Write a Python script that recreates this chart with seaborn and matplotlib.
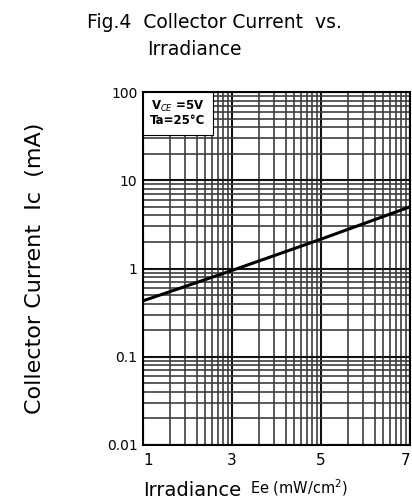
import numpy as np
import pandas as pd
import matplotlib
matplotlib.use("Agg")
import matplotlib.pyplot as plt
from matplotlib.patches import Rectangle
import seaborn as sns

# data
irradiance = [1, 3, 5, 7]            # Ee (mW/cm^2)
collector_current = [0.43, 0.95, 2.15, 5.0]  # Ic (mA)
x_ticks = [1, 3, 5, 7]
x_ticklabels = ["1", "3", "5", "7"]
y_ticks = [0.01, 0.1, 1, 10, 100]
y_ticklabels = ["0.01", "0.1", "1", "10", "100"]

sns.set_style("white")
plt.rcParams["font.family"] = ["DejaVu Sans"]
plt.rcParams["text.color"] = "black"

df = pd.DataFrame({"Ee": irradiance, "Ic": collector_current})

fig = plt.figure(figsize=(4.12, 5.04), dpi=100)
ax = fig.add_axes([143 / 412, 1 - 445 / 504, 267 / 412, 353 / 504])

ax.set_yscale("log")
ax.set_xlim(1, 7)
ax.set_ylim(0.01, 100)

# log-paper style grid: each x segment of width 2 is one decade
minor_x = []
for s in [1, 3, 5]:
    for k in range(2, 10):
        minor_x.append(s + 2 * np.log10(k))
ax.set_xticks(x_ticks)
ax.set_xticklabels(x_ticklabels)
ax.set_xticks(minor_x, minor=True)
ax.set_yticks(y_ticks)
ax.set_yticklabels(y_ticklabels)
ax.yaxis.set_minor_locator(matplotlib.ticker.LogLocator(base=10, subs=np.arange(2, 10)))
ax.yaxis.set_minor_formatter(matplotlib.ticker.NullFormatter())

ax.grid(True, which="major", color="#111111", linewidth=1.5)
ax.grid(True, which="minor", color="#3a3a3a", linewidth=1.3, alpha=0.9)
ax.set_axisbelow(True)
ax.tick_params(which="both", length=0)
ax.tick_params(axis="both", labelsize=10, colors="black")
ax.tick_params(axis="x", pad=6)
ax.tick_params(axis="y", pad=4)
xl = ax.get_xticklabels()
for lab in xl:
    lab.set_fontsize(11)
xl[0].set_ha("left")
xl[-1].set_ha("right")

for sp in ax.spines.values():
    sp.set_color("black")
    sp.set_linewidth(1.5)

sns.lineplot(data=df, x="Ee", y="Ic", ax=ax, color="black", linewidth=2.2, zorder=5)

# legend box
ax.add_patch(Rectangle((0, 1 - 43 / 353), 70 / 267, 43 / 353, transform=ax.transAxes,
                       facecolor="white", edgecolor="black", linewidth=0.8, zorder=6))
ax.text(35 / 267, 1 - 14 / 353, "V$_{CE}$ =5V", transform=ax.transAxes, ha="center",
        va="center", fontsize=8.5, fontweight="bold", zorder=7)
ax.text(35 / 267, 1 - 29 / 353, "Ta=25°C", transform=ax.transAxes, ha="center",
        va="center", fontsize=8.5, fontweight="bold", zorder=7)

ax.set_xlabel("")
ax.set_ylabel("")

fig.text(35 / 412, 1 - 268 / 504, "Collector Current  Ic  (mA)", rotation=90,
         ha="center", va="center", fontsize=16)
fig.text(143 / 412, 1 - 496 / 504, "Irradiance", ha="left", va="baseline", fontsize=14)
fig.text(250 / 412, 1 - 493 / 504, "Ee (mW/cm$^2$)", ha="left", va="baseline", fontsize=10.5)

fig.text(87 / 412, 1 - 28 / 504, "Fig.4  Collector Current  vs.", ha="left",
         va="baseline", fontsize=13.5)
fig.text(147 / 412, 1 - 55 / 504, "Irradiance", ha="left", va="baseline", fontsize=13.5)

fig.savefig("out.png", dpi=100)
